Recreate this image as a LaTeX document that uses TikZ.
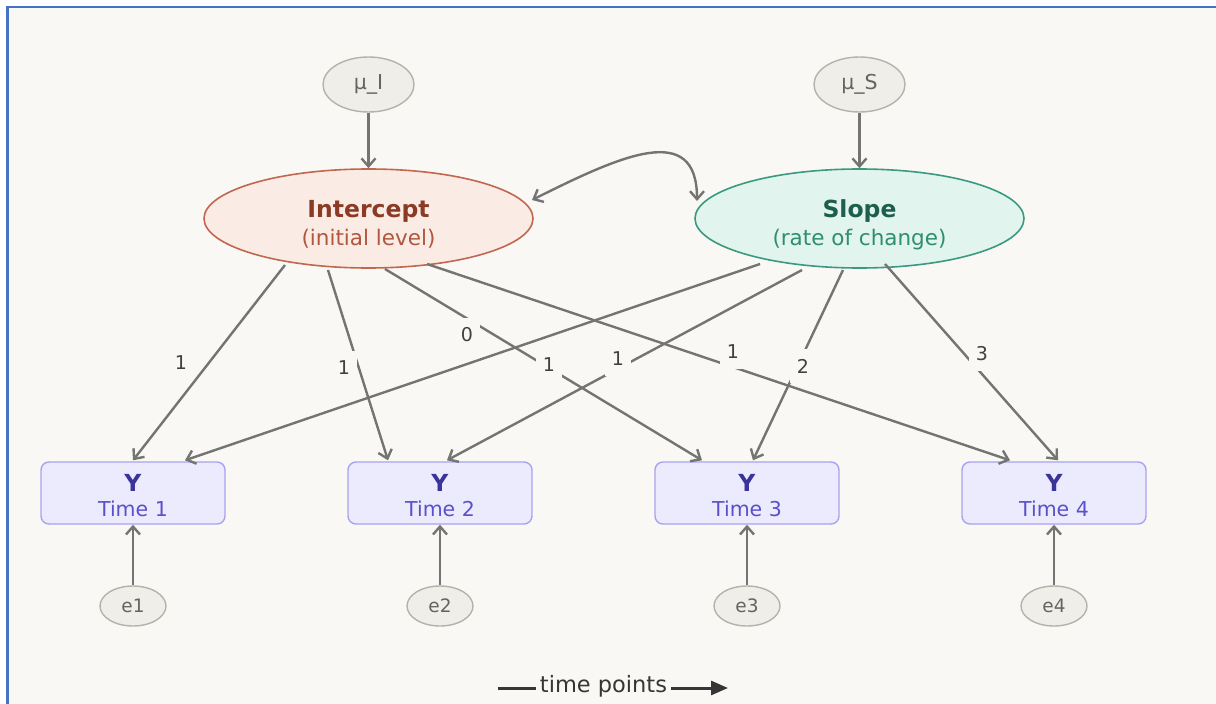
\documentclass[tikz,border=0pt]{standalone}
\usepackage{fontspec}
\setmainfont{DejaVu Sans}
\usetikzlibrary{shapes.geometric,arrows.meta,calc}

\definecolor{pagebg}{HTML}{F9F8F5}
\definecolor{frameblue}{HTML}{4472C4}
\definecolor{arrowgray}{HTML}{747472}
\definecolor{smallfill}{HTML}{F0EEE8}
\definecolor{smalledge}{HTML}{B5B2AB}
\definecolor{smalltext}{HTML}{66645F}
\definecolor{intfill}{HTML}{FBEBE5}
\definecolor{intedge}{HTML}{C2674F}
\definecolor{inttitle}{HTML}{8A3A25}
\definecolor{intsub}{HTML}{B0583E}
\definecolor{slpfill}{HTML}{E1F4EE}
\definecolor{slpedge}{HTML}{3B9980}
\definecolor{slptitle}{HTML}{1E5E4D}
\definecolor{slpsub}{HTML}{2F8D70}
\definecolor{boxfill}{HTML}{ECEBFD}
\definecolor{boxedge}{HTML}{A8A3F0}
\definecolor{boxtitle}{HTML}{3A3398}
\definecolor{boxsub}{HTML}{5B50C9}
\definecolor{loadtext}{HTML}{404040}
\definecolor{axistext}{HTML}{363636}

\tikzset{
  smallell/.style={ellipse, draw=smalledge, fill=smallfill, line width=1.4pt,
    inner sep=0pt, text=smalltext, font=\fontsize{20.5}{24}\selectfont},
  meanell/.style={smallell, minimum width=91pt, minimum height=55pt},
  errell/.style={smallell, minimum width=66pt, minimum height=40pt,
    font=\fontsize{18.5}{22}\selectfont},
  latent/.style={ellipse, line width=1.6pt, inner sep=0pt,
    minimum width=329pt, minimum height=99pt},
  obsbox/.style={rectangle, rounded corners=8pt, draw=boxedge, fill=boxfill,
    line width=1.4pt, minimum width=184pt, minimum height=62pt},
  titletext/.style={anchor=base, font=\bfseries\fontsize{23.5}{26}\selectfont},
  subtext/.style={anchor=base, font=\fontsize{21.5}{24}\selectfont},
  timetext/.style={anchor=base, font=\fontsize{20.5}{24}\selectfont},
  arr/.style={draw=arrowgray, line width=2.4pt, ->},
  covarr/.style={draw=arrowgray, line width=2.4pt, <->},
  loading/.style={fill=pagebg, text=loadtext, inner sep=0pt,
    minimum width=26pt, minimum height=34pt,
    font=\fontsize{19}{22}\selectfont},
}

\begin{document}
\begin{tikzpicture}[x=1pt,y=-1pt,
  >={Straight Barb[length=8pt,width=14pt,line width=2.4pt]}]
  \useasboundingbox (0,0) rectangle (1216,704);
  % page and frame
  \fill[white] (0,0) rectangle (1216,704);
  \fill[pagebg] (7,6) rectangle (1216,704);
  \draw[frameblue, line width=2.4pt] (7.6,704) -- (7.6,7) -- (1216,7);

  % means of the growth factors
  \node[meanell] (muI) at (368.5,84.5) {μ\_I};
  \node[meanell] (muS) at (859.5,84.5) {μ\_S};

  % latent growth factors
  \node[latent, draw=intedge, fill=intfill] (I) at (368.5,218.5) {};
  \node[latent, draw=slpedge, fill=slpfill] (S) at (859.5,218.5) {};
  \node[titletext, text=inttitle] (Ititle) at (368.5,217) {Intercept};
  \node[subtext, text=intsub] (Isub) at (368.5,245) {(initial level)};
  \node[titletext, text=slptitle] (Stitle) at (859.5,217) {Slope};
  \node[subtext, text=slpsub] (Ssub) at (859.5,245) {(rate of change)};

  % repeated measures and their residuals
  \foreach \k/\x in {1/133,2/440,3/747,4/1054}{
    \node[obsbox] (Y\k) at (\x,493) {};
    \node[titletext, text=boxtitle] (Yt\k) at (\x,491.5) {Y};
    \node[timetext, text=boxsub] (Ys\k) at (\x,516) {Time \k};
    \node[errell] (e\k) at (\x,606) {e\k};
    \draw[arr] (e\k) -- (Y\k);
  }

  \draw[arr] (muI) -- (I);
  \draw[arr] (muS) -- (S);

  % covariance between intercept and slope
  \draw[covarr]
    ($(I.center)+(163.5,-18.5)$) .. controls ($(I.center)+(253.5,-63.5)$)
    and ($(S.center)+(-162.5,-97.5)$) .. ($(S.center)+(-162.5,-17.5)$);

  % factor loadings
  \draw[arr] ($(I.center)+(-83.5,46.5)$) -- ($(Y1.north)+(0,-1)$);
  \draw[arr] ($(I.center)+(-40.5,51.5)$) -- ($(Y2.north)+(-52,-1)$);
  \draw[arr] ($(I.center)+(16.5,50.5)$) -- ($(Y3.north)+(-45,-1)$);
  \draw[arr] ($(I.center)+(58.5,45.5)$) -- ($(Y4.north)+(-44,-1)$);
  \draw[arr] ($(S.center)+(-99.5,45.5)$) -- ($(Y1.north)+(52,-1)$);
  \draw[arr] ($(S.center)+(-57.5,51.5)$) -- ($(Y2.north)+(7,-1)$);
  \draw[arr] ($(S.center)+(-16.5,51.5)$) -- ($(Y3.north)+(6,-1)$);
  \draw[arr] ($(S.center)+(25.5,45.5)$) -- ($(Y4.north)+(4,-1)$);

  \node[loading] (l1) at (181,363) {1};
  \node[loading] (l2) at (344,368) {1};
  \node[loading] (l3) at (467,335) {0};
  \node[loading] (l4) at (549,365) {1};
  \node[loading] (l5) at (618,359) {1};
  \node[loading] (l6) at (733,352) {1};
  \node[loading] (l7) at (803,366) {2};
  \node[loading] (l8) at (982,354) {3};

  % time axis
  \node[text=axistext, font=\fontsize{22.5}{26}\selectfont, inner sep=0pt] (tp) at (603.5,686) {time points};
  \coordinate (tpL) at (498,688);
  \coordinate (tpR) at (728,688);
  \draw[axistext, line width=3pt] (tpL) -- ($(tp.west)+(-4,2)$);
  \draw[axistext, line width=3pt, -{Triangle[length=17pt,width=14pt]}] ($(tp.east)+(4,2)$) -- (tpR);
\end{tikzpicture}
\end{document}
